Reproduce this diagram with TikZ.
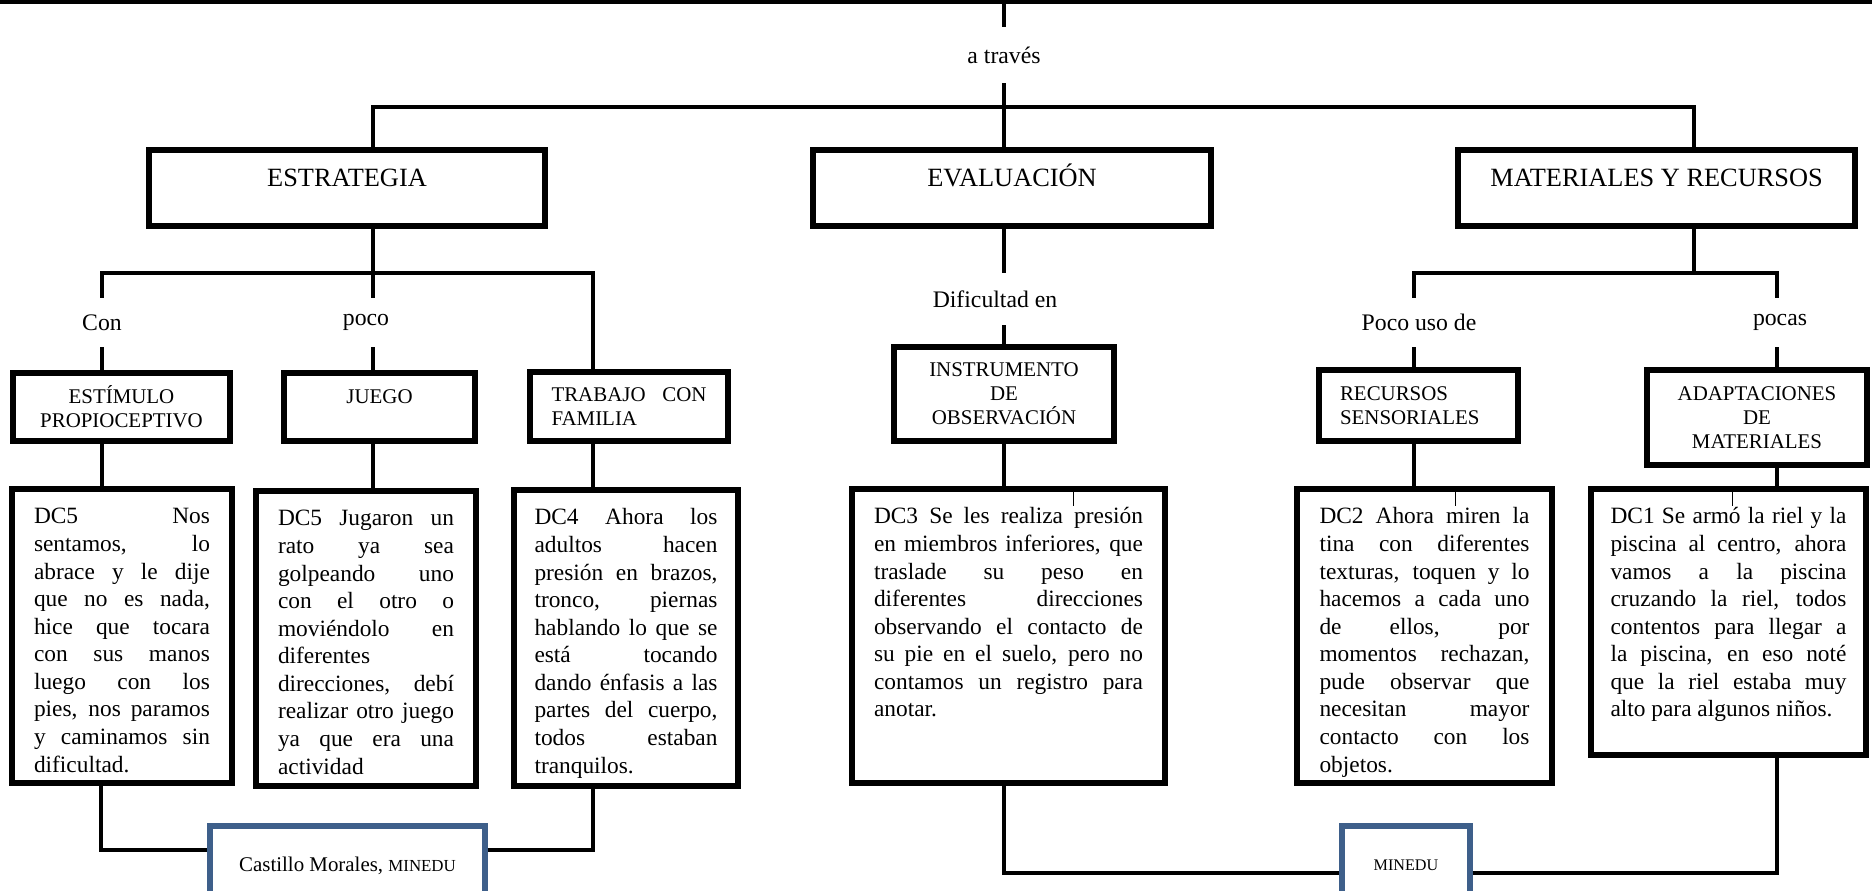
\documentclass[tikz,border=0pt]{standalone}
\usepackage{fontspec}
\setmainfont{Liberation Serif}
\definecolor{frameblue}{RGB}{62,95,138}
\newcommand{\dctext}[3]{\parbox[c][#2][t]{#1}{\fontsize{13.3}{15.7}\selectfont
    \tolerance=10000 \hyphenpenalty=10000 \strut#3}}

\begin{document}
\begin{tikzpicture}
        [
            x = 0.02cm, y = -0.02cm,
            boxed/.style          = {shape=rectangle, draw, line width=3.1pt, inner sep=0pt, align=center},
            sized/.style 2 args   = {minimum width=#1*0.02cm, minimum height=#2*0.02cm},
            head/.style           = {boxed, font=\fontsize{15}{18}\selectfont, text height=10.5pt, text depth=12.7pt},
            sub/.style            = {boxed, font=\fontsize{11.9}{13.6}\selectfont},
            word/.style           = {inner sep=0pt, minimum height=0.98cm, font=\fontsize{13.5}{16}\selectfont},
            source/.style         = {boxed, draw=frameblue},
            link/.style           = {line width=2.55pt},
            tick/.style           = {line width=0.6pt},
        ]
        \useasboundingbox (0,0) rectangle (1872,891);

        \node [head, sized={396}{76}] (estrategia) at (347,188) {ESTRATEGIA};
        \node [head, sized={398}{76}] (evaluacion) at (1012,188) {EVALUACIÓN};
        \node [head, sized={397}{76}] (materiales) at (1656.5,188) {MATERIALES Y RECURSOS};

        \node [word, minimum height=1.12cm] (atraves) at (1004,55) {a través};
        \node [word] (con) at (102,322.5) {Con};
        \node [word] (poco) at (366,322.5) {poco};
        \node [word, minimum height=1.04cm] (dificultad) at (995,299) {Dificultad en};
        \node [word] (pocouso) at (1419,322.5) {Poco uso de};
        \node [word] (pocas) at (1780,322.5) {pocas};

        \node [sub, sized={217}{68}] (estimulo) at (121.5,407) {ESTÍMULO\\PROPIOCEPTIVO};
        \node [sub, sized={191}{68}, text height=8.5pt, text depth=12pt] (juego) at (379.5,407) {JUEGO};
        \node [sub, sized={198}{69}, text width=3.1cm, align=left] (trabajo) at (629,406.5) {TRABAJO\hfill CON\\FAMILIA};
        \node [sub, sized={220}{94}] (instrumento) at (1004,394) {INSTRUMENTO\\DE\\OBSERVACIÓN};
        \node [sub, sized={199}{71}, text width=3.14cm, align=left] (recursos) at (1418.5,405.5) {RECURSOS\\SENSORIALES};
        \node [sub, sized={220}{95}] (adaptaciones) at (1757,417.5) {ADAPTACIONES\\DE\\MATERIALES};

        \node [boxed, sized={220}{294}] (dcA) at (122,636) {\dctext{3.52cm}{5.26cm}{DC5 Nos\linebreak sentamos, lo\linebreak abrace y le dije\linebreak que no es nada,\linebreak hice que tocara\linebreak con sus manos\linebreak luego con los\linebreak pies, nos paramos\linebreak y caminamos sin\linebreak dificultad.}};
        \node [boxed, sized={220}{295}] (dcB) at (366,638.5) {\dctext{3.52cm}{5.28cm}{DC5 Jugaron un\linebreak rato ya sea\linebreak golpeando uno\linebreak con el otro o\linebreak moviéndolo en\linebreak diferentes\linebreak direcciones, debí\linebreak realizar otro juego\linebreak ya que era una\linebreak actividad}};
        \node [boxed, sized={224}{296}] (dcC) at (626,638) {\dctext{3.66cm}{5.3cm}{DC4 Ahora los\linebreak adultos hacen\linebreak presión en brazos,\linebreak tronco, piernas\linebreak hablando lo que se\linebreak está tocando\linebreak dando énfasis a las\linebreak partes del cuerpo,\linebreak todos estaban\linebreak tranquilos.}};
        \node [boxed, sized={313}{294}] (dcD) at (1008.5,636) {\dctext{5.38cm}{5.26cm}{DC3 Se les realiza presión\linebreak en miembros inferiores, que\linebreak traslade su peso en\linebreak diferentes direcciones\linebreak observando el contacto de\linebreak su pie en el suelo, pero no\linebreak contamos un registro para\linebreak anotar.}};
        \node [boxed, sized={255}{294}] (dcE) at (1424.5,636) {\dctext{4.2cm}{5.26cm}{DC2 Ahora miren la\linebreak tina con diferentes\linebreak texturas, toquen y lo\linebreak hacemos a cada uno\linebreak de ellos, por\linebreak momentos rechazan,\linebreak pude observar que\linebreak necesitan mayor\linebreak contacto con los\linebreak objetos.}};
        \node [boxed, sized={275}{266}] (dcF) at (1728.5,622) {\dctext{4.72cm}{4.7cm}{DC1 Se armó la riel y la\linebreak piscina al centro, ahora\linebreak vamos a la piscina\linebreak cruzando la riel, todos\linebreak contentos para llegar a\linebreak la piscina, en eso noté\linebreak que la riel estaba muy\linebreak alto para algunos niños.}};

        \node [source, sized={275}{79}, font=\fontsize{11.9}{14}\selectfont] (castillo) at (347.5,865.5) {Castillo Morales, {\fontsize{9.6}{11}\selectfont MINEDU}};
        \node [source, sized={128}{79}, font=\fontsize{9.2}{11}\selectfont] (minedu) at (1406,865.5) {MINEDU};

        \coordinate (tl) at (0,1.5);
        \coordinate (tr) at (1872,1.5);
        \coordinate (jL) at (373,107);
        \coordinate (jR) at (1694,107);
        \coordinate (bE) at (373,273);
        \coordinate (bT) at (593,273);
        \coordinate (bP) at (1414,273);
        \coordinate (bQ) at (1777,273);
        \coordinate (kL) at (101,850);
        \coordinate (kR) at (593,850);
        \coordinate (mL) at (1004,873);
        \coordinate (mR) at (1777,873);

        \draw [line width=2.3pt] (tl) -- (tr);
        \draw [link] (atraves.north) -- (atraves.north |- tl);
        \draw [link] (atraves.south) -- (atraves.south |- evaluacion.north);
        \draw [link] (jL |- estrategia.north) -- (jL) -- (jR) -- (jR |- materiales.north);

        \draw [link] (bE |- estrategia.south) -- (bE);
        \draw [link] (con.north) -- (con.north |- bE) -- (bT) -- (bT |- trabajo.north);
        \draw [link] (bE) -- (bE |- poco.north);
        \draw [link] (con.south) -- (con.south |- estimulo.north);
        \draw [link] (bE |- poco.south) -- (bE |- juego.north);
        \draw [link] (con.south |- estimulo.south) -- (con.south |- dcA.north);
        \draw [link] (bE |- juego.south) -- (bE |- dcB.north);
        \draw [link] (bT |- trabajo.south) -- (bT |- dcC.north);

        \draw [link] (instrumento.north |- evaluacion.south) -- (instrumento.north |- dificultad.north);
        \draw [link] (instrumento.north |- dificultad.south) -- (instrumento.north);
        \draw [link] (instrumento.south) -- (instrumento.south |- dcD.north);

        \draw [link] (jR |- materiales.south) -- (jR |- bP);
        \draw [link] (bP |- pocouso.north) -- (bP) -- (bQ) -- (bQ |- pocas.north);
        \draw [link] (bP |- pocouso.south) -- (bP |- recursos.north);
        \draw [link] (bQ |- pocas.south) -- (bQ |- adaptaciones.north);
        \draw [link] (bP |- recursos.south) -- (bP |- dcE.north);
        \draw [link] (bQ |- adaptaciones.south) -- (bQ |- dcF.north);

        \draw [link] (kL |- dcA.south) -- (kL) -- (castillo.west |- kL);
        \draw [link] (castillo.east |- kR) -- (kR) -- (kR |- dcC.south);
        \draw [link] (mL |- dcD.south) -- (mL) -- (minedu.west |- mL);
        \draw [link] (minedu.east |- mR) -- (mR) -- (mR |- dcF.south);

        \draw [tick] (dcD.north west) ++(224,0) -- ++(0,20);
        \draw [tick] (dcE.north west) ++(161.5,0) -- ++(0,20);
        \draw [tick] (dcF.north west) ++(144.5,0) -- ++(0,20);
    \end{tikzpicture}
\end{document}
